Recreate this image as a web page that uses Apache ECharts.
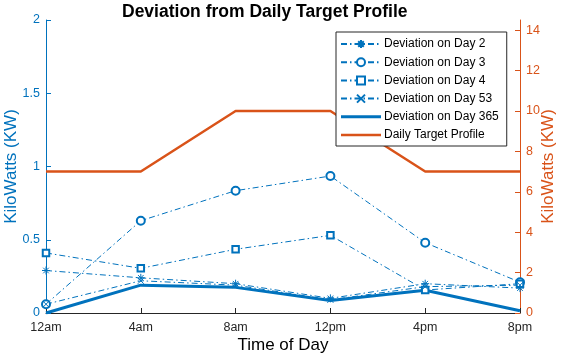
<!DOCTYPE html>
<html>
<head>
<meta charset="utf-8">
<script src="https://cdn.jsdelivr.net/npm/echarts@6/dist/echarts.min.js"></script>
<style>
  html, body { margin: 0; padding: 0; background: #fff; }
  #chart { width: 566px; height: 357px; }
</style>
</head>
<body>
<div id="chart"></div>
<script>
var hours = ["12am", "4am", "8am", "12pm", "4pm", "8pm"];
var day2 = [0.29, 0.24, 0.2, 0.1, 0.2, 0.17];
var day3 = [0.06, 0.63, 0.835, 0.935, 0.48, 0.21];
var day4 = [0.41, 0.305, 0.435, 0.53, 0.157, 0.2];
var day53 = [0.06, 0.22, 0.19, 0.09, 0.18, 0.19];
var day365 = [0.0, 0.19, 0.175, 0.085, 0.155, 0.015];
var target = [7, 7, 10, 10, 7, 7];

var blue = "#0072BD";
var orange = "#D95319";
var font = "Liberation Sans";

var myChart = echarts.init(document.getElementById("chart"));

var asterisk = "path://M5,0L5,10M0,5L10,5M1.5,1.5L8.5,8.5M8.5,1.5L1.5,8.5";
var cross = "path://M0,0L10,10M10,0L0,10";
var thickBar = "path://M0,0L40,0L40,3L0,3Z";
var dashDot = [6, 3, 1.5, 3];

function devSeries(name, data, symbol, size) {
  var isPath = symbol.indexOf("path") === 0;
  return {
    name: name,
    type: "line",
    yAxisIndex: 0,
    data: data,
    symbol: symbol,
    symbolSize: size,
    showAllSymbol: true,
    lineStyle: { color: blue, width: 1, type: dashDot },
    itemStyle: isPath
      ? { color: "rgba(0,0,0,0)", borderColor: blue, borderWidth: 1 }
      : { color: blue, borderColor: blue, borderWidth: 1 },
    emphasis: { disabled: true }
  };
}

var option = {
  animation: false,
  textStyle: { fontFamily: font },
  title: {
    text: "Deviation from Daily Target Profile",
    left: 117,
    top: -2,
    textStyle: { fontSize: 17.5, fontWeight: "bold", color: "#000", fontFamily: font }
  },
  legend: {
    orient: "vertical",
    left: 336,
    top: 32,
    padding: [6, 8, 5, 4],
    itemWidth: 40,
    itemHeight: 10,
    itemGap: 6.2,
    backgroundColor: "#fff",
    borderColor: "#262626",
    borderWidth: 1,
    symbolKeepAspect: true,
    textStyle: { fontSize: 12, color: "#000", fontFamily: font, padding: [0, 0, 0, -2] },
    data: [
      "Deviation on Day 2",
      "Deviation on Day 3",
      "Deviation on Day 4",
      "Deviation on Day 53",
      { name: "Deviation on Day 365", icon: thickBar },
      { name: "Daily Target Profile", icon: "path://M0,0L40,0L40,2.5L0,2.5Z" }
    ]
  },
  grid: { left: 46, right: 46, top: 20, bottom: 44, outerBoundsMode: "none", containLabel: false },
  xAxis: {
    type: "category",
    data: hours,
    boundaryGap: false,
    name: "Time of Day",
    nameLocation: "middle",
    nameGap: 24,
    nameMoveOverlap: false,
    nameTextStyle: { fontSize: 17, color: "#000" },
    axisLine: { lineStyle: { color: "#262626" } },
    axisTick: { inside: true, alignWithLabel: true, length: 5, lineStyle: { color: "#262626" } },
    axisLabel: { fontSize: 12.5, color: "#262626", margin: 8 },
    splitLine: { show: false }
  },
  yAxis: [
    {
      type: "value",
      min: 0,
      max: 2,
      interval: 0.5,
      name: "KiloWatts (KW)",
      nameLocation: "middle",
      nameGap: 26,
      nameMoveOverlap: false,
      nameTextStyle: { fontSize: 17, color: blue },
      axisLine: { show: true, lineStyle: { color: blue } },
      axisTick: { show: true, inside: true, length: 5, lineStyle: { color: blue } },
      axisLabel: { fontSize: 12.5, color: blue, margin: 6 },
      splitLine: { show: false }
    },
    {
      type: "value",
      min: 0,
      max: 14.5,
      interval: 2,
      name: "KiloWatts (KW)",
      nameLocation: "middle",
      nameGap: 20,
      nameRotate: 90,
      nameMoveOverlap: false,
      nameTextStyle: { fontSize: 17, color: orange },
      axisLine: { show: true, lineStyle: { color: orange } },
      axisTick: { show: true, inside: true, length: 5, lineStyle: { color: orange } },
      axisLabel: { fontSize: 12.5, color: orange, margin: 6, showMaxLabel: false },
      splitLine: { show: false }
    }
  ],
  series: [
    {
      name: "Daily Target Profile",
      type: "line",
      yAxisIndex: 1,
      data: target,
      symbol: "none",
      lineStyle: { color: orange, width: 2.5 },
      itemStyle: { color: orange },
      z: 1
    },
    devSeries("Deviation on Day 2", day2, asterisk, 8),
    devSeries("Deviation on Day 3", day3, "emptyCircle", 8),
    devSeries("Deviation on Day 4", day4, "emptyRect", 6.5),
    devSeries("Deviation on Day 53", day53, cross, 6),
    {
      name: "Deviation on Day 365",
      type: "line",
      yAxisIndex: 0,
      data: day365,
      symbol: "none",
      lineStyle: { color: blue, width: 3 },
      itemStyle: { color: blue }
    }
  ]
};

myChart.setOption(option);
</script>
</body>
</html>
